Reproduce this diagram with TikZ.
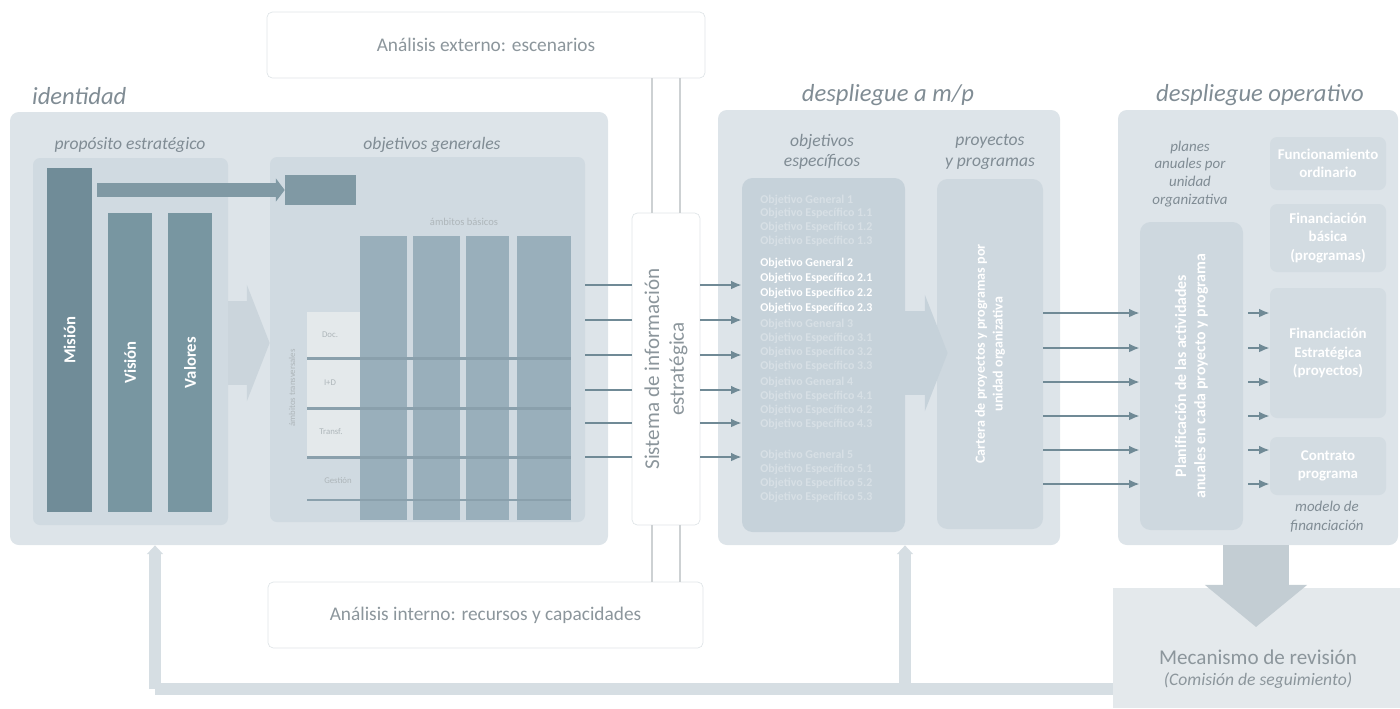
\documentclass[tikz,border=0pt]{standalone}
\usepackage{fontspec}
\setmainfont{Carlito}
\usepackage{tikz}
\usetikzlibrary{calc}
\usetikzlibrary{fit}
\usetikzlibrary{arrows.meta}
\definecolor{fondopanel}{RGB}{221, 228, 233}
\definecolor{fondointerno}{RGB}{208, 218, 225}
\definecolor{fondooe}{RGB}{198, 210, 218}
\definecolor{fondoproy}{RGB}{206, 216, 223}
\definecolor{fondofin}{RGB}{211, 220, 226}
\definecolor{barraoscura}{RGB}{112, 140, 152}
\definecolor{barraclara}{RGB}{120, 150, 161}
\definecolor{barramedia}{RGB}{128, 153, 164}
\definecolor{celda}{RGB}{153, 175, 187}
\definecolor{separador}{RGB}{138, 160, 172}
\definecolor{etiquetafila}{RGB}{228, 233, 235}
\definecolor{flechagris}{RGB}{112, 138, 150}
\definecolor{titulogris}{RGB}{128, 140, 148}
\definecolor{textogris}{RGB}{140, 150, 156}
\definecolor{bordeclaro}{RGB}{224, 229, 232}
\definecolor{retornogris}{RGB}{214, 222, 227}
\definecolor{flechapalida}{RGB}{203, 213, 220}
\definecolor{fondomec}{RGB}{228, 233, 236}

\tikzset{
  panel/.style={fill=fondopanel, rounded corners=5pt, inner sep=0pt},
  panelinterno/.style={fill=fondointerno, rounded corners=4pt, inner sep=0pt},
  cajablanca/.style={draw=bordeclaro, fill=white, rounded corners=3pt, inner sep=0pt},
  barra/.style={fill=barraclara, inner sep=0pt},
  cajafin/.style={fill=fondofin, rounded corners=4pt, inner sep=0pt},
  titulo/.style={font=\itshape\fontsize{14}{16}\selectfont, text=titulogris},
  subtitulo/.style={font=\itshape\fontsize{10}{11.5}\selectfont, text=titulogris, align=center},
  textoanalisis/.style={font=\fontsize{11}{13}\selectfont, text=textogris},
  textobarra/.style={rotate=90, font=\bfseries\fontsize{9.5}{11}\selectfont, text=white},
  textoblanco/.style={font=\bfseries\fontsize{8.5}{10.5}\selectfont, text=white, align=center},
  minitexto/.style={font=\fontsize{5}{6}\selectfont, text=textogris!70},
  objlinea/.style={anchor=west, font=\bfseries\fontsize{6.8}{8}\selectfont, text=white, inner sep=0pt},
  linea/.style={flechagris, line width=1.1pt},
  flecha/.style={linea, -{Latex[length=6pt, width=5pt]}},
  canal/.style={bordeclaro!80!gray, line width=0.6pt},
  retorno/.style={retornogris, line width=6.8pt, -{Triangle[length=5pt, width=9pt]}},
  flechaancha/.style={flechapalida, line width=48pt, -{Triangle[length=13pt, width=66pt]}},
}

\begin{document}
\begin{tikzpicture}[x=0.02cm, y=-0.02cm]
\useasboundingbox (0,0) rectangle (1400,708);

% analisis externo e interno
\node[cajablanca, fit={(267,12) (705,78)}] (externo) {};
\node[textoanalisis] (texterno) at (externo.center) {Análisis externo: escenarios};
\node[cajablanca, fit={(268,582) (703,648)}] (interno) {};
\node[textoanalisis] (tinterno) at (interno.center) {Análisis interno: recursos y capacidades};

% mecanismo de revision y retorno
\node[fill=fondomec, inner sep=0pt, fit={(1113,588) (1400,708)}] (mec) {};
\node[font=\fontsize{12}{14}\selectfont, text=textogris] (tmec) at (1258,657) {Mecanismo de revisión};
\node[font=\itshape\fontsize{10}{12}\selectfont, text=textogris] (tcom) at (1258,681) {(Comisión de seguimiento)};
\coordinate (esquina) at (155,689);
\coordinate (rama) at (905,689);

% identidad
\node[titulo, anchor=west] (tident) at (26,96) {identidad};
\node[panel, fit={(10,112) (608,545)}] (ident) {};
\node[subtitulo] (tprop) at (130,145) {propósito estratégico};
\node[panelinterno, fit={(33,158) (228,525)}] (proposito) {};
\node[subtitulo] (tobjgen) at (432,145) {objetivos generales};
\node[panelinterno, fit={(270,157) (585,522)}] (objgen) {};
\node[barra, fill=barraoscura, fit={(47,168) (92,512)}] (mision) {};
\node[barra, fit={(108,213) (152,512)}] (vision) {};
\node[barra, fit={(168,213) (212,512)}] (valores) {};
\node[textobarra] (tmision) at (mision.center) {Misión};
\node[textobarra] (tvision) at (vision.center) {Visión};
\node[textobarra] (tvalores) at (valores.center) {Valores};
\node[barra, fill=barramedia, fit={(285,175) (356,205)}] (resumen) {};
\draw[barramedia, line width=7.9pt, shorten <=1mm, -{Triangle[length=5pt, width=13pt]}]
  (mision.east |- resumen.west) -- (resumen.west);
\draw[flechaancha] (proposito.east |- 0,343) -- (objgen.west |- 0,343);

% ambitos
\node[minitexto, font=\fontsize{6}{7}\selectfont] (tbasicos) at (464,222) {ámbitos básicos};
\node[minitexto, rotate=90] (ttransv) at (292,388) {ámbitos transversales};
\foreach \xa/\xb in {360/407, 413/460, 466/509, 517/571}
  \fill[celda] (\xa,236) rectangle (\xb,520);
\foreach \ya/\yb in {312/357, 360/407, 410/456}
  \fill[etiquetafila] (307,\ya) rectangle (360,\yb);
\foreach \y in {358.5, 408.5, 457.5, 500}
  \draw[separador, line width=1.2pt] (307,\y) -- (571,\y);
\node[minitexto] (fila1) at (330,335) {Doc.};
\node[minitexto] (fila2) at (330,383) {I+D};
\node[minitexto] (fila3) at (331,432) {Transf.};
\node[minitexto] (fila4) at (338,480) {Gestión};

% sistema de informacion
\node[cajablanca, fit={(632,213) (700,525)}] (sie) {};
\node[rotate=90, align=center, font=\fontsize{12}{14}\selectfont, text=textogris] (tsie) at (sie.center)
  {Sistema de información\\estratégica};
\foreach \x in {652,680} {
  \draw[canal] (externo.south -| \x,0) -- (sie.north -| \x,0);
  \draw[canal] (sie.south -| \x,0) -- (interno.north -| \x,0);
}

% despliegue a m/p
\node[titulo] (tmp) at (888,95) {despliegue a m/p};
\node[panel, fit={(718,110) (1060,545)}] (mp) {};
\node[subtitulo] (toe) at (822,152) {objetivos\\específicos};
\node[subtitulo] (tproy) at (990,152) {proyectos\\y programas};
\node[fill=fondooe, rounded corners=6pt, inner sep=0pt, fit={(742,178) (905,532)}] (oe) {};
\node[fill=fondoproy, rounded corners=6pt, inner sep=0pt, fit={(937,179) (1043,529)}] (proy) {};
\foreach \y/\texto/\op in {
    200/Objetivo General 1/0.3, 213/Objetivo Específico 1.1/0.3,
    227/Objetivo Específico 1.2/0.3, 241/Objetivo Específico 1.3/0.3,
    263/Objetivo General 2/1, 278/Objetivo Específico 2.1/1,
    293/Objetivo Específico 2.2/1, 308/Objetivo Específico 2.3/1,
    324/Objetivo General 3/0.3, 338/Objetivo Específico 3.1/0.3,
    352/Objetivo Específico 3.2/0.3, 366/Objetivo Específico 3.3/0.3,
    382/Objetivo General 4/0.3, 396/Objetivo Específico 4.1/0.3,
    410/Objetivo Específico 4.2/0.3, 424/Objetivo Específico 4.3/0.3,
    455/Objetivo General 5/0.3, 469/Objetivo Específico 5.1/0.3,
    483/Objetivo Específico 5.2/0.3, 497/Objetivo Específico 5.3/0.3}
  \node[objlinea, text opacity=\op] at (760,\y) {\texto};
\draw[flechaancha, fondooe, shorten >=-2.2mm] (oe.east |- 0,353) -- (proy.west |- 0,353);
\node[textoblanco, rotate=90, font=\bfseries\fontsize{8}{10}\selectfont] (tcartera) at (proy.center)
  {Cartera de proyectos y programas por\\unidad organizativa};
\foreach \y in {285,320,355,390,423,457} {
  \draw[linea] (objgen.east |- 0,\y) -- (sie.west |- 0,\y);
  \draw[flecha] (sie.east |- 0,\y) -- (oe.west |- 0,\y);
}

% despliegue operativo
\node[titulo] (toper) at (1260,95) {despliegue operativo};
\node[panel, fit={(1118,110) (1398,545)}] (oper) {};
\node[subtitulo, font=\itshape\fontsize{8.5}{10.2}\selectfont] (tplanes) at (1190,174)
  {planes\\anuales por\\unidad\\organizativa};
\node[fill=fondoproy, rounded corners=6pt, inner sep=0pt, fit={(1140,222) (1243,530)}] (plan) {};
\node[textoblanco, rotate=90, font=\bfseries\fontsize{9}{11}\selectfont] (tplan) at (plan.center)
  {Planificación de las actividades\\anuales en cada proyecto y programa};
\node[cajafin, fit={(1270,137) (1386,190)}] (func) {};
\node[cajafin, fit={(1270,204) (1386,272)}] (fb) {};
\node[cajafin, fit={(1270,288) (1386,418)}] (fe) {};
\node[cajafin, fit={(1270,437) (1386,495)}] (cp) {};
\node[textoblanco] (tfunc) at (func.center) {Funcionamiento\\ordinario};
\node[textoblanco] (tfb) at (fb.center) {Financiación\\básica\\(programas)};
\node[textoblanco] (tfe) at (fe.center) {Financiación\\Estratégica\\(proyectos)};
\node[textoblanco] (tcp) at (cp.center) {Contrato\\programa};
\node[subtitulo, font=\itshape\fontsize{8.5}{11}\selectfont] (tmodelo) at (1327,517) {modelo de\\financiación};
\foreach \y in {313,348,382,416,450,484} {
  \draw[flecha] (proy.east |- 0,\y) -- (plan.west |- 0,\y);
  \draw[flecha, shorten <=1mm] (plan.east |- 0,\y) -- (fe.west |- 0,\y);
}

% revision
\coordinate (puntamec) at (1256,627);
\draw[flechapalida!90!gray, line width=38pt, -{Triangle[length=24pt, width=57pt]}]
  (oper.south -| puntamec) -- (puntamec);
\draw[retorno, -] (mec.west |- esquina) -- (esquina);
\draw[retorno] (esquina) -- (ident.south -| esquina);
\draw[retorno] (rama) -- (mp.south -| rama);
\end{tikzpicture}
\end{document}
